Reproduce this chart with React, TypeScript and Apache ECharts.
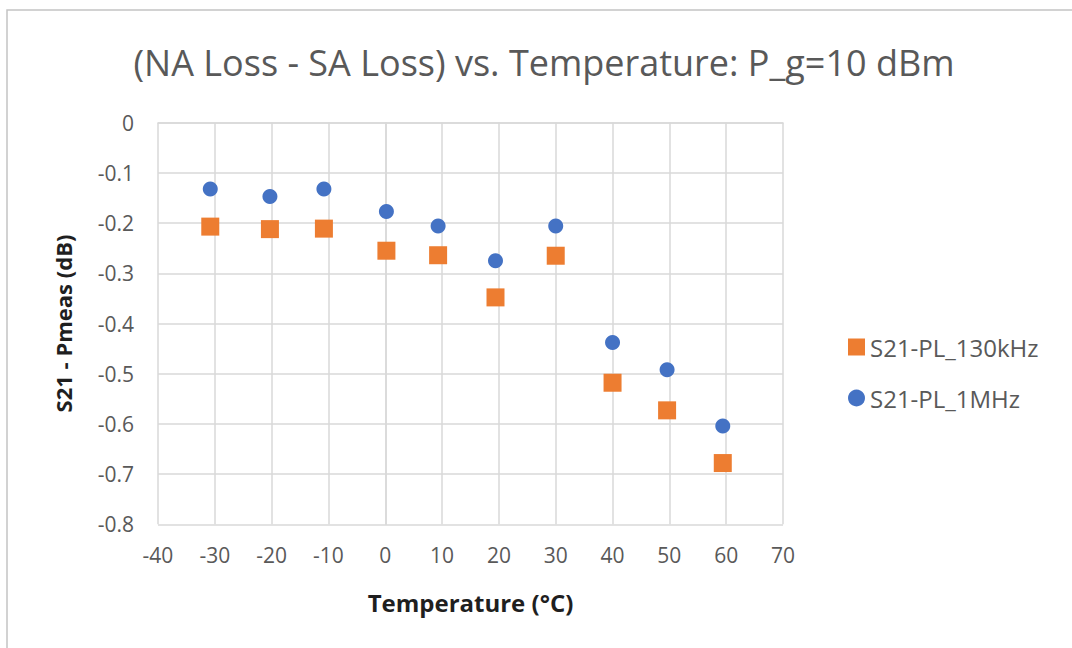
import React, { useEffect, useRef } from "react";
import * as echarts from "echarts";

const temperatures = [-30.8, -20.3, -10.8, 0.2, 9.3, 19.4, 30, 40, 49.6, 59.4];
const s21_130kHz = [-0.207, -0.212, -0.211, -0.255, -0.264, -0.348, -0.265, -0.518, -0.573, -0.678];
const s21_1MHz = [-0.132, -0.147, -0.132, -0.177, -0.206, -0.275, -0.206, -0.438, -0.492, -0.604];
const seriesNames = ["S21-PL_130kHz", "S21-PL_1MHz"];
const titleText = "(NA Loss - SA Loss) vs. Temperature: P_g=10 dBm";
const xTitle = "Temperature (°C)";
const yTitle = "S21 - Pmeas (dB)";

const FONT = "'Open Sans', Lato, sans-serif";

export default function App() {
  const ref = useRef<HTMLDivElement>(null);
  useEffect(() => {
    if (!ref.current) return;
    const chart = echarts.init(ref.current, undefined, { renderer: "svg" });
    const pts = (ys: number[]) => temperatures.map((t, i) => [t, ys[i]]);
    chart.setOption({
      animation: false,
      backgroundColor: "#ffffff",
      textStyle: { fontFamily: FONT },
      graphic: [
        {
          type: "rect",
          shape: { x: 7, y: 10, width: 1100, height: 700 },
          style: { fill: "none", stroke: "#c4c4c4", lineWidth: 1.5 },
          silent: true,
        },
        {
          type: "text",
          x: 544,
          y: 62,
          style: {
            text: titleText,
            align: "center",
            verticalAlign: "middle",
            fontFamily: FONT,
            fontSize: 36,
            fill: "#595959",
          },
        },
      ],
      grid: { left: 158, right: 289, top: 122.7, bottom: 123.7 },
      legend: {
        orient: "vertical",
        left: 843,
        top: 330,
        itemWidth: 17,
        itemHeight: 17,
        itemGap: 27,
        textStyle: { fontSize: 24, color: "#595959", fontFamily: FONT },
        data: [
          { name: seriesNames[0], icon: "rect" },
          { name: seriesNames[1], icon: "circle" },
        ],
      },
      xAxis: {
        type: "value",
        min: -40,
        max: 70,
        interval: 10,
        name: xTitle,
        nameLocation: "middle",
        nameGap: 66,
        nameTextStyle: { fontSize: 24, fontWeight: "bold", color: "#1f1f1f", fontFamily: FONT },
        axisLine: { show: true, lineStyle: { color: "#d9d9d9", width: 1.5 } },
        axisTick: { show: false },
        axisLabel: { fontSize: 21, color: "#595959", margin: 20, fontFamily: FONT },
        splitLine: { show: true, lineStyle: { color: "#d9d9d9", width: 1.5 } },
      },
      yAxis: {
        type: "value",
        min: -0.8,
        max: 0,
        interval: 0.1,
        name: yTitle,
        nameLocation: "middle",
        nameGap: 84,
        nameTextStyle: { fontSize: 22, fontWeight: "bold", color: "#1f1f1f", fontFamily: FONT },
        axisLine: { show: true, lineStyle: { color: "#d9d9d9", width: 1.5 } },
        axisTick: { show: false },
        axisLabel: {
          fontSize: 21,
          color: "#595959",
          margin: 24,
          fontFamily: FONT,
          formatter: (v: number) => (Math.abs(v) < 1e-9 ? "0" : v.toFixed(1)),
        },
        splitLine: { show: true, lineStyle: { color: "#d9d9d9", width: 1.5 } },
      },
      series: [
        {
          name: seriesNames[0],
          type: "scatter",
          symbol: "rect",
          symbolSize: 18,
          itemStyle: { color: "#ED7D31", opacity: 1 },
          data: pts(s21_130kHz),
        },
        {
          name: seriesNames[1],
          type: "scatter",
          symbol: "circle",
          symbolSize: 15,
          itemStyle: { color: "#4472C4", opacity: 1 },
          data: pts(s21_1MHz),
        },
      ],
    });
    return () => chart.dispose();
  }, []);
  return (
    <div
      ref={ref}
      style={{ position: "fixed", left: 0, top: 0, width: 1072, height: 648 }}
    />
  );
}
